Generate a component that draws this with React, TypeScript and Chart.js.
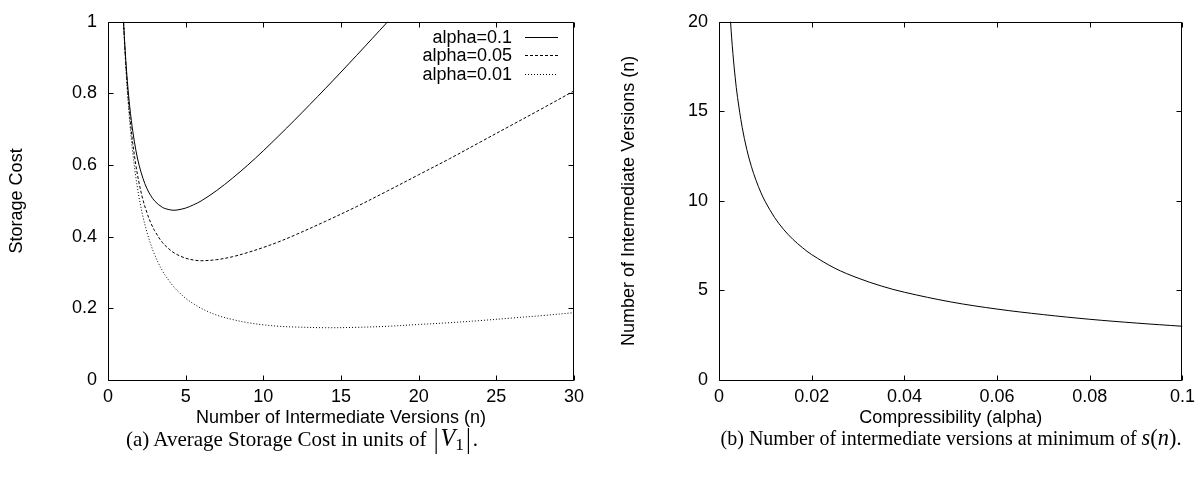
import React, { useEffect, useRef } from "react";
import { Chart, registerables } from "chart.js";

Chart.register(...registerables);

const FONT = "'Liberation Sans', Arial, Helvetica, sans-serif";
const SERIF = "'Liberation Serif', 'Times New Roman', serif";

// ---------- Panel (a): storage cost vs number of intermediate versions ----------
const versionCounts = [1, 1.1, 1.2, 1.3, 1.4, 1.5, 1.6, 1.8, 2, 2.25, 2.5, 2.75, 3, 3.5, 4, 4.25, 4.5, 5, 5.5, 6, 7, 8, 9, 10, 11, 12, 14, 16, 18, 20, 22, 24, 26, 28, 30];
const costAlpha010 = [1.0, 0.923, 0.86, 0.807, 0.763, 0.725, 0.693, 0.64, 0.6, 0.563, 0.535, 0.515, 0.5, 0.482, 0.475, 0.474, 0.475, 0.48, 0.489, 0.5, 0.529, 0.563, 0.6, 0.64, 0.682, 0.725, 0.814, 0.906, 1.0, 1.095, null, null, null, null, null];
const costAlpha005 = [1.0, 0.916, 0.847, 0.788, 0.739, 0.696, 0.659, 0.598, 0.55, 0.503, 0.468, 0.439, 0.417, 0.384, 0.363, 0.355, 0.349, 0.34, 0.335, 0.333, 0.336, 0.344, 0.356, 0.37, 0.386, 0.404, 0.443, 0.484, 0.528, 0.573, 0.618, 0.665, 0.712, 0.759, 0.807];
const costAlpha001 = [1.0, 0.911, 0.836, 0.773, 0.719, 0.673, 0.632, 0.564, 0.51, 0.456, 0.414, 0.379, 0.35, 0.305, 0.273, 0.259, 0.248, 0.228, 0.213, 0.2, 0.181, 0.169, 0.16, 0.154, 0.15, 0.148, 0.146, 0.147, 0.15, 0.155, 0.16, 0.166, 0.173, 0.18, 0.188];
const seriesLabels = ["alpha=0.1", "alpha=0.05", "alpha=0.01"];
const leftXTicks = [0, 5, 10, 15, 20, 25, 30];
const leftYTicks = [0, 0.2, 0.4, 0.6, 0.8, 1];
const leftXTitle = "Number of Intermediate Versions (n)";
const leftYTitle = "Storage Cost";

// ---------- Panel (b): optimal number of versions vs compressibility ----------
const alphaValues = [0.002, 0.0025, 0.003, 0.0035, 0.004, 0.005, 0.006, 0.007, 0.008, 0.009, 0.01, 0.012, 0.014, 0.016, 0.018, 0.02, 0.025, 0.03, 0.035, 0.04, 0.05, 0.06, 0.07, 0.08, 0.09, 0.1];
const optimalVersions = [22.3, 19.97, 18.23, 16.87, 15.78, 14.11, 12.87, 11.91, 11.14, 10.49, 9.95, 9.07, 8.39, 7.84, 7.39, 7.0, 6.24, 5.69, 5.25, 4.9, 4.36, 3.96, 3.65, 3.39, 3.18, 3.0];
const rightXTicks = [0, 0.02, 0.04, 0.06, 0.08, 0.1];
const rightYTicks = [0, 5, 10, 15, 20];
const rightXTitle = "Compressibility (alpha)";
const rightYTitle = "Number of Intermediate Versions (n)";

const toPoints = (xs: number[], ys: (number | null)[]) =>
  xs.map((x, i) => ({ x, y: ys[i] })).filter((p) => p.y !== null) as { x: number; y: number }[];

const fmt = (v: any) => String(Number(Number(v).toFixed(4)));

const framePlugin = {
  id: "gnuFrame",
  afterDatasetsDraw(chart: any, _args: any, opts: any) {
    const { ctx, chartArea } = chart;
    const xs = chart.scales.x;
    const ys = chart.scales.y;
    const L = Math.round(chartArea.left) + 0.5;
    const R = Math.round(chartArea.right) - 0.5;
    const T = Math.round(chartArea.top) + 0.5;
    const B = Math.round(chartArea.bottom) + 0.5;
    const tl = 5;
    ctx.save();
    ctx.strokeStyle = "#000";
    ctx.lineWidth = 1;
    ctx.setLineDash([]);
    ctx.beginPath();
    ctx.rect(L, T, R - L, B - T);
    for (const t of xs.ticks) {
      const px = Math.round(xs.getPixelForValue(t.value)) + 0.5;
      ctx.moveTo(px, B);
      ctx.lineTo(px, B - tl);
      ctx.moveTo(px, T);
      ctx.lineTo(px, T + tl);
    }
    for (const t of ys.ticks) {
      const py = Math.round(ys.getPixelForValue(t.value)) + 0.5;
      ctx.moveTo(L, py);
      ctx.lineTo(L + tl, py);
      ctx.moveTo(R, py);
      ctx.lineTo(R - tl, py);
    }
    ctx.stroke();

    if (opts && opts.legend) {
      const { textRight, sampleStart, sampleEnd, firstRow, rowGap } = opts.legend;
      ctx.font = `18px ${FONT}`;
      ctx.fillStyle = "#000";
      ctx.textAlign = "right";
      ctx.textBaseline = "middle";
      chart.data.datasets.forEach((ds: any, i: number) => {
        const y = firstRow + i * rowGap;
        ctx.fillText(ds.label, textRight, y + 1);
        ctx.beginPath();
        ctx.setLineDash(ds.borderDash || []);
        ctx.moveTo(sampleStart, Math.round(y) + 0.5);
        ctx.lineTo(sampleEnd, Math.round(y) + 0.5);
        ctx.stroke();
      });
    }
    ctx.restore();
  },
};

function axisOptions(opts: {
  min: number;
  max: number;
  tickValues: number[];
  title: string;
  horizontal: boolean;
  size: number;
  titlePad?: number;
}) {
  return {
    type: "linear",
    min: opts.min,
    max: opts.max,
    afterBuildTicks: (s: any) => {
      s.ticks = opts.tickValues.map((value) => ({ value }));
    },
    afterFit: (s: any) => {
      if (opts.horizontal) s.height = opts.size;
      else s.width = opts.size;
    },
    grid: { display: false, drawTicks: false },
    border: { display: false },
    ticks: {
      font: { family: FONT, size: 18 },
      color: "#000",
      padding: opts.horizontal ? 6 : 11,
      maxRotation: 0,
      autoSkip: false,
      callback: fmt,
    },
    title: {
      display: true,
      text: opts.title,
      font: { family: FONT, size: 18 },
      color: "#000",
      padding: { top: opts.titlePad ?? 4, bottom: 4 },
    },
  };
}

function ChartBox({ config, left, top, width, height }: any) {
  const ref = useRef<HTMLCanvasElement>(null);
  useEffect(() => {
    const chart = new Chart(ref.current as HTMLCanvasElement, config);
    return () => chart.destroy();
  }, []);
  return (
    <canvas
      ref={ref}
      width={width}
      height={height}
      style={{ position: "absolute", left, top, width, height }}
    />
  );
}

const lineStyle = (dash: number[]) => ({
  borderColor: "#000",
  borderWidth: 1,
  borderDash: dash,
  pointRadius: 0,
  fill: false,
  tension: 0.35,
});

const leftConfig: any = {
  type: "line",
  data: {
    datasets: [
      { label: seriesLabels[0], data: toPoints(versionCounts, costAlpha010), ...lineStyle([]) },
      { label: seriesLabels[1], data: toPoints(versionCounts, costAlpha005), ...lineStyle([3, 2]) },
      { label: seriesLabels[2], data: toPoints(versionCounts, costAlpha001), ...lineStyle([1, 2]) },
    ],
  },
  options: {
    responsive: false,
    animation: false,
    events: [],
    layout: { padding: { left: 0, top: 13, right: 26, bottom: 0 } },
    plugins: {
      legend: { display: false },
      tooltip: { enabled: false },
      gnuFrame: { legend: { textRight: 512, sampleStart: 525, sampleEnd: 558, firstRow: 37, rowGap: 18.3 } },
    },
    scales: {
      x: axisOptions({ min: 0, max: 30, tickValues: leftXTicks, title: leftXTitle, horizontal: true, size: 53 }),
      y: axisOptions({ min: 0, max: 1, tickValues: leftYTicks, title: leftYTitle, horizontal: false, size: 108, titlePad: 6 }),
    },
  },
  plugins: [framePlugin],
};

const rightConfig: any = {
  type: "line",
  data: {
    datasets: [{ label: "n_min", data: toPoints(alphaValues, optimalVersions), ...lineStyle([]) }],
  },
  options: {
    responsive: false,
    animation: false,
    events: [],
    layout: { padding: { left: 0, top: 13, right: 15, bottom: 0 } },
    plugins: {
      legend: { display: false },
      tooltip: { enabled: false },
      gnuFrame: { legend: null },
    },
    scales: {
      x: axisOptions({ min: 0, max: 0.1, tickValues: rightXTicks, title: rightXTitle, horizontal: true, size: 53 }),
      y: axisOptions({ min: 0, max: 20, tickValues: rightYTicks, title: rightYTitle, horizontal: false, size: 105 }),
    },
  },
  plugins: [framePlugin],
};

const captionStyle: React.CSSProperties = {
  position: "absolute",
  top: 425,
  width: 600,
  textAlign: "center",
  fontFamily: SERIF,
  fontSize: 20,
  lineHeight: "26px",
  color: "#000",
  whiteSpace: "nowrap",
};

const mathStyle: React.CSSProperties = { fontStyle: "italic", fontSize: "1.12em" };

export default function App() {
  return (
    <div
      style={{
        position: "fixed",
        left: 0,
        top: 0,
        width: 1201,
        height: 477,
        background: "#fff",
        overflow: "hidden",
      }}
    >
      <ChartBox config={leftConfig} left={0} top={0} width={600} height={433} />
      <ChartBox config={rightConfig} left={614} top={0} width={587} height={433} />
      <div style={{ ...captionStyle, left: 2, fontSize: 21 }}>
        (a) Average Storage Cost in units of{" "}
        <span style={{ fontSize: "1.15em" }}>
          <span style={{ display: "inline-block", transform: "scaleY(1.25)", margin: "0 2px" }}>|</span>
          <span style={{ fontStyle: "italic" }}>V</span>
          <span style={{ fontSize: "0.72em", verticalAlign: "-0.25em" }}>1</span>
          <span style={{ display: "inline-block", transform: "scaleY(1.25)", margin: "0 2px" }}>|</span>
        </span>
        .
      </div>
      <div style={{ ...captionStyle, left: 651 }}>
        (b) Number of intermediate versions at minimum of{" "}
        <span style={mathStyle}>s</span>
        <span style={{ fontSize: "1.12em" }}>(</span>
        <span style={mathStyle}>n</span>
        <span style={{ fontSize: "1.12em" }}>)</span>.
      </div>
    </div>
  );
}
